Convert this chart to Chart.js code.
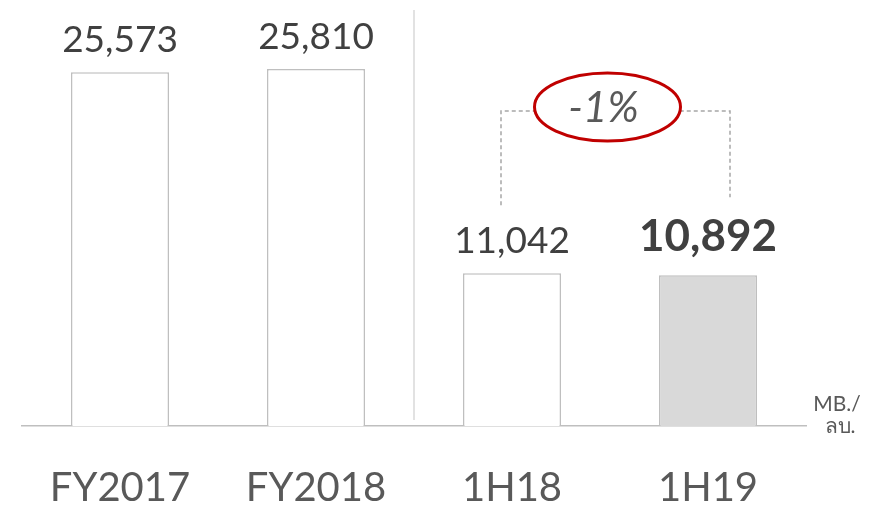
<!DOCTYPE html>
<html>
<head>
<meta charset="utf-8">
<script src="https://cdn.jsdelivr.net/npm/chart.js@4.4.0/dist/chart.umd.min.js"></script>
<style>
  html, body { margin: 0; padding: 0; background: #fff; }
  #wrap { width: 870px; height: 510px; }
</style>
</head>
<body>
<div id="wrap"><canvas id="grafico" width="870" height="510"></canvas></div>
<script>
// dados do gráfico
const categorias = ['FY2017', 'FY2018', '1H18', '1H19'];
const valores = [25573, 25810, 11042, 10892];
const rotulos = ['25,573', '25,810', '11,042', '10,892'];
const variacao = '-1%';
const unidade = ['MB./', 'ลบ.'];

const corTexto = '#404040';
const corEixo = '#595959';

// desenha rótulos, separador, colchete e elipse
const decoracao = {
    id: 'decoracao',
    afterDatasetsDraw(chart) {
        const ctx = chart.ctx;
        const x = chart.scales.x;
        const area = chart.chartArea;
        const barras = chart.getDatasetMeta(0).data;

        ctx.save();

        // separador vertical entre anual e semestral
        const xSep = (x.getPixelForValue(1) + x.getPixelForValue(2)) / 2;
        ctx.strokeStyle = '#d9d9d9';
        ctx.lineWidth = 1.5;
        ctx.beginPath();
        ctx.moveTo(xSep, 10);
        ctx.lineTo(xSep, area.bottom - 6);
        ctx.stroke();

        // valores acima das barras
        ctx.textAlign = 'center';
        ctx.textBaseline = 'alphabetic';
        barras.forEach((b, i) => {
            if (i === 3) {
                ctx.font = 'bold 44px Lato';
                ctx.fillStyle = corTexto;
                ctx.fillText(rotulos[i], b.x, b.y - 24);
            } else {
                ctx.font = '37px Lato';
                ctx.fillStyle = corTexto;
                ctx.fillText(rotulos[i], b.x, b.y - 20);
            }
        });

        // colchete tracejado
        const xa = barras[2].x - 11;
        const xb = barras[3].x + 22;
        const yTopo = 111;
        ctx.strokeStyle = '#a6a6a6';
        ctx.lineWidth = 1.5;
        ctx.setLineDash([4, 3]);
        ctx.beginPath();
        ctx.moveTo(xa, barras[2].y - 68);
        ctx.lineTo(xa, yTopo);
        ctx.lineTo(xb, yTopo);
        ctx.lineTo(xb, barras[3].y - 78);
        ctx.stroke();
        ctx.setLineDash([]);

        // elipse vermelha
        const cx = (xa + xb) / 2 - 8;
        const cy = 107;
        ctx.beginPath();
        ctx.ellipse(cx, cy, 73, 34, 0, 0, Math.PI * 2);
        ctx.fillStyle = '#ffffff';
        ctx.fill();
        ctx.strokeStyle = '#c00000';
        ctx.lineWidth = 3;
        ctx.stroke();

        ctx.font = 'italic 42px Lato';
        ctx.fillStyle = '#595959';
        ctx.textBaseline = 'middle';
        ctx.fillText(variacao, cx - 4, cy + 1);

        // unidade
        ctx.font = '21px Lato';
        ctx.fillStyle = corEixo;
        ctx.textAlign = 'center';
        ctx.textBaseline = 'alphabetic';
        ctx.fillText(unidade[0], 837, 411);
        ctx.fillText(unidade[1], 840, 433);

        ctx.restore();
    }
};

const ctx = document.getElementById('grafico').getContext('2d');
new Chart(ctx, {
    type: 'bar',
    data: {
        labels: categorias,
        datasets: [{
            data: valores,
            backgroundColor: ['#ffffff', '#ffffff', '#ffffff', '#d9d9d9'],
            borderColor: '#bfbfbf',
            borderWidth: 1.5,
            borderSkipped: 'bottom',
            barPercentage: 0.5,
            categoryPercentage: 1.0
        }]
    },
    options: {
        responsive: false,
        animation: false,
        layout: { padding: { top: 11, left: 22, right: 64, bottom: 0 } },
        plugins: { legend: { display: false }, tooltip: { enabled: false } },
        scales: {
            x: {
                grid: { display: false, drawTicks: false },
                border: { display: true, color: '#bfbfbf', width: 1.5 },
                ticks: { color: corEixo, font: { family: 'Lato', size: 40 }, padding: 38, maxRotation: 0 },
                afterFit(escala) { escala.height = 84; }
            },
            y: {
                display: false,
                min: 0,
                max: 30000
            }
        }
    },
    plugins: [decoracao]
});
</script>
</body>
</html>
